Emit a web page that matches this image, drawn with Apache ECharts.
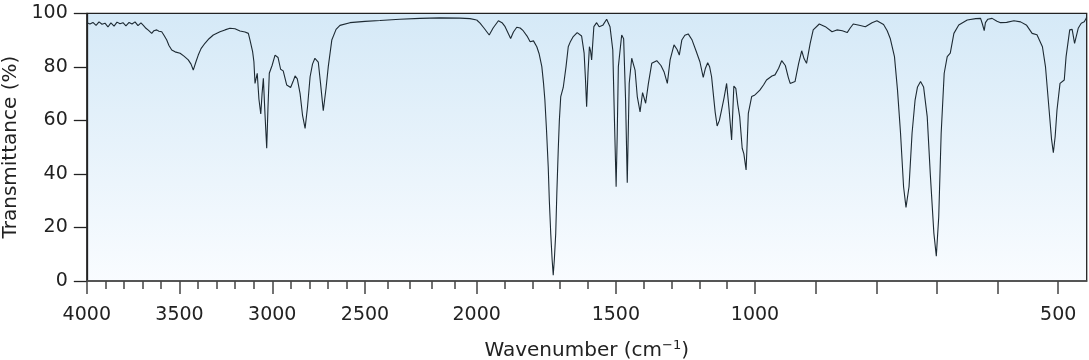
<!DOCTYPE html>
<html><head><meta charset="utf-8">
<script src="https://cdn.jsdelivr.net/npm/echarts@6/dist/echarts.min.js"></script>
<style>html,body{margin:0;padding:0;background:#fff}#c{width:1089px;height:360px}</style>
</head><body><div id="c"></div>
<script>
// ---- data ----
const wavenumbers = [
3999,3983,3967,3950,3934,3918,3902,3886,3870,3853,3837,3821,3805,3789,3772,3756,3740,3724,3708,3695,
3681,3667,3650,3638,3623,3611,3596,3584,3569,3557,3542,3524,3497,3476,3453,3438,3426,3411,3399,3384,
3363,3341,3318,3282,3255,3228,3201,3174,3147,3129,3120,3106,3099,3093,3081,3072,3062,3055,3048,3039,
3030,3023,3016,3001,2985,2969,2955,2941,2922,2901,2888,2877,2865,2850,2837,2823,2810,2796,2783,2770,
2752,2740,2725,2710,2698,2679,2656,2635,2581,2500,
2433,2344,2254,2165,2075,2030,2000,
1988,1974,1955,1941,1922,1909,1898,1878,1868,1856,1844,1833,1819,1808,1796,1784,1776,1766,1760,1755,
1749,1743,1739,1734,1729,1725,1721,1716,1712,1707,1703,1698,1689,1679,1671,1663,1653,1639,1623,1614,
1609,1605,1600,1595,1591,1587,1579,1569,1560,1547,1533,1521,1511,1505,1499,1495,1491,1479,1472,1465,
1459,1452,1443,1431,1423,1413,1404,1393,1383,1371,1353,1338,1327,1315,1305,1291,1280,1272,1263,1252,
1240,1226,1212,1198,1186,1178,1170,1163,1156,1150,1143,1136,1128,1120,1111,1102,1093,1084,1076,1069,
1062,1055,1046,1040,1032,1024,1012,1000,
992,986,981,972,967,961,956,950,945,942,934,928,923,919,915,909,904,894,884,873,
865,856,848,843,838,830,818,807,799,788,782,777,770,765,760,755,751,746,741,736,
732,727,722,716,711,705,701,697,693,688,683,678,672,664,650,636,628,625,622,620,
616,609,601,595,585,573,562,552,543,535,526,521,515,511,508,505,502,497,490,487,
481,477,473,467,462,457,454,453
];
const transmittance = [
96.5,96.0,96.6,95.5,96.8,95.9,96.3,94.9,96.4,95.2,96.7,96.1,96.5,95.3,96.6,96.0,96.8,95.4,96.4,95.5,
94.4,93.6,92.5,93.5,93.8,93.3,93.1,91.8,90.0,88.0,86.3,85.6,85.1,84.0,82.6,81.0,78.8,82.0,84.4,86.8,
88.8,90.5,91.9,93.1,93.8,94.4,94.2,93.4,93.0,92.5,90.0,85.7,81.9,73.8,77.6,68.0,62.4,70.0,75.7,62.0,
49.6,65.0,77.6,80.5,84.4,83.5,79.1,78.5,73.2,72.3,74.5,76.6,75.5,70.0,62.0,57.0,65.0,76.3,81.0,83.2,
81.8,74.0,63.6,72.0,80.1,90.0,94.0,95.5,96.5,97.0,
97.3,97.8,98.1,98.3,98.2,98.0,97.5,
96.3,94.5,91.9,94.5,97.2,96.5,95.0,90.6,93.0,94.8,94.5,93.5,91.5,89.4,89.7,87.5,85.0,80.1,74.0,67.6,
56.0,42.7,30.0,17.8,8.0,2.2,8.0,17.8,33.0,48.9,60.0,68.9,72.3,80.1,87.5,89.5,91.3,92.8,91.5,85.1,
75.0,65.1,78.0,87.5,86.0,82.6,95.0,96.5,95.0,95.5,97.8,95.0,86.3,60.0,35.2,55.0,80.1,91.9,90.5,67.6,
36.7,73.8,83.2,78.8,68.9,63.2,70.4,66.4,73.8,81.3,82.3,80.5,78.2,73.8,82.6,88.2,86.5,84.4,90.0,91.8,
92.3,90.0,86.0,81.9,76.1,79.5,81.5,80.0,76.3,70.1,63.0,57.9,60.0,63.9,68.5,73.8,64.0,52.7,72.8,72.0,
66.0,61.4,49.6,47.5,41.5,62.6,68.9,69.5,
71.3,73.2,75.1,76.6,77.0,79.5,82.3,80.5,76.0,73.8,74.5,81.3,86.0,83.0,81.3,88.8,93.8,96.0,95.0,93.1,
93.8,93.5,92.8,94.5,96.0,95.6,95.0,96.5,97.2,95.8,93.5,90.6,83.8,71.3,55.2,35.2,27.5,35.2,55.2,67.6,
72.5,74.5,72.5,61.4,40.2,17.8,9.3,24.0,55.2,77.6,83.8,85.1,92.5,95.6,97.5,98.0,98.1,96.0,93.5,96.5,
97.8,98.1,97.0,96.5,96.6,97.2,96.8,95.5,92.5,92.0,87.5,80.1,63.9,53.0,47.9,54.0,63.9,73.8,75.1,83.8,
93.8,94.0,88.8,94.4,96.3,96.8,98.1,98.5
];
// axis ranges of the four differently-scaled pieces of the wavenumber axis
const segmentMin = [2500, 2000, 1000, 453];
const segmentMax = [4000, 2500, 2000, 1000];
const lowRangeTicks = [500, 600, 700, 800, 900, 1000];
const lowRangeLabels = [500];
const yTickInterval = 20;

// ---- layout ----
const W = 1089, H = 360;
const plotTop = 13.3, plotBottom = 281;
const segLeftPx = [86.8, 365, 476.7, 755];
const segRightPx = [365, 476.7, 755, 1086.7];
const FONT = '"DejaVu Sans", sans-serif';
const textColor = '#222';
const axisColor = '#444';
const lineColor = '#1d2a33';

const points = wavenumbers.map((w, i) => [w, transmittance[i]]);

const grids = [{
  left: segLeftPx[0], right: W - segRightPx[3], top: plotTop, bottom: H - plotBottom,
  outerBoundsMode: 'none', containLabel: false,
  show: true, borderColor: '#222', borderWidth: 1.3,
  backgroundColor: new echarts.graphic.LinearGradient(0, 0, 0, 1, [
    {offset: 0, color: '#d5e9f7'}, {offset: 1, color: '#f9fcff'}
  ])
}];
const xAxes = [{
  gridIndex: 0, type: 'value', min: segmentMin[3], max: segmentMax[0], inverse: true,
  axisLine: {show: false}, axisTick: {show: false}, axisLabel: {show: false}, splitLine: {show: false},
  name: 'Wavenumber (cm{sup|−1})', nameLocation: 'middle', nameGap: 58,
  nameTextStyle: {fontFamily: FONT, fontSize: 20, color: textColor,
    rich: {sup: {fontFamily: FONT, fontSize: 13, color: textColor, padding: [0, 0, 11, 0]}}}
}];
const yAxes = [{
  gridIndex: 0, type: 'value', min: 0, max: 100, interval: yTickInterval,
  axisLine: {show: true, lineStyle: {color: '#222', width: 1.3}},
  axisTick: {show: true, length: 13, lineStyle: {color: '#222', width: 1.3}},
  axisLabel: {margin: 19, fontFamily: FONT, fontSize: 19, color: textColor},
  splitLine: {show: false},
  name: 'Transmittance (%)', nameLocation: 'middle', nameGap: 64,
  nameTextStyle: {fontFamily: FONT, fontSize: 20, color: textColor}
}];
const series = [];
const tickStyle = {color: axisColor, width: 1.5};
for (let s = 0; s < 4; s++) {
  const g = s + 1;
  grids.push({left: segLeftPx[s], right: W - segRightPx[s], top: plotTop, bottom: H - plotBottom,
    outerBoundsMode: 'none', containLabel: false, show: false});
  const ax = {
    gridIndex: g, type: 'value', min: segmentMin[s], max: segmentMax[s], inverse: true,
    axisLine: {show: true, onZero: false, lineStyle: {color: '#555', width: 1.5}},
    axisTick: {show: true, length: 13, lineStyle: tickStyle},
    axisLabel: {show: true, margin: 25, fontFamily: FONT, fontSize: 19, color: textColor,
      formatter: v => String(v)},
    splitLine: {show: false}
  };
  if (s < 3) {
    ax.interval = 500;
    ax.minorTick = {show: true, splitNumber: 5, length: 8, lineStyle: tickStyle};
    ax.minorSplitLine = {show: false};
  } else {
    ax.axisTick.customValues = lowRangeTicks;
    ax.axisLabel.customValues = lowRangeLabels;
  }
  if (s === 1) ax.axisLabel.show = false;
  xAxes.push(ax);
  yAxes.push({gridIndex: g, type: 'value', min: 0, max: 100, show: false});
  series.push({
    type: 'line', xAxisIndex: g, yAxisIndex: g, showSymbol: false, silent: true,
    clip: true,
    lineStyle: {color: lineColor, width: 1.1},
    data: points.filter(p => p[0] >= segmentMin[s] && p[0] <= segmentMax[s])
  });
}

const chart = echarts.init(document.getElementById('c'));
chart.setOption({animation: false, grid: grids, xAxis: xAxes, yAxis: yAxes, series: series});
</script>
</body></html>
